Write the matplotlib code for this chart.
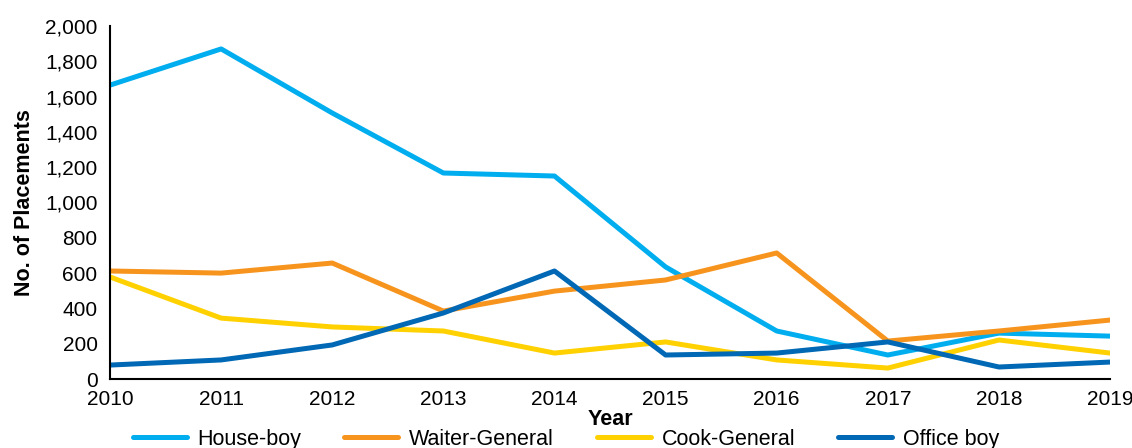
import numpy as np
import matplotlib.pyplot as plt
from matplotlib.ticker import FuncFormatter

plt.rcParams['font.family'] = ['Liberation Sans', 'DejaVu Sans']

years = [2010, 2011, 2012, 2013, 2014, 2015, 2016, 2017, 2018, 2019]
house_boy = [1665, 1870, 1507, 1167, 1150, 635, 272, 136, 260, 243]
waiter_general = [612, 600, 657, 385, 498, 561, 714, 215, 272, 334]
cook_general = [578, 345, 295, 272, 147, 210, 108, 62, 221, 147]
office_boy = [79, 108, 193, 374, 612, 136, 147, 210, 68, 96]

series = [
    ("House-boy", house_boy, "#00AEEF"),
    ("Waiter-General", waiter_general, "#F7941D"),
    ("Cook-General", cook_general, "#FFD100"),
    ("Office boy", office_boy, "#0068B4"),
]

fig = plt.figure(figsize=(11.32, 4.48), dpi=100)
ax = fig.add_axes([0.0972, 0.154, 0.8834, 0.788])

for name, vals, col in series:
    ax.plot(years, vals, color=col, lw=3.6, label=name, solid_capstyle='round')

ax.set_xlim(2010, 2019)
ax.set_ylim(0, 2000)
ax.set_xticks(years)
ax.set_yticks(np.arange(0, 2001, 200))
ax.yaxis.set_major_formatter(FuncFormatter(lambda v, p: f"{int(v):,}"))
ax.tick_params(length=0, labelsize=15)
ax.tick_params(axis='x', pad=8)
ax.tick_params(axis='y', pad=9)

for s in ['top', 'right']:
    ax.spines[s].set_visible(False)
for s in ['left', 'bottom']:
    ax.spines[s].set_linewidth(1.5)

ax.set_xlabel("Year", fontsize=15.5, fontweight='bold', labelpad=0)
ax.set_ylabel("No. of Placements", fontsize=15.5, fontweight='bold', labelpad=7)

fig.legend(*ax.get_legend_handles_labels(), loc='center', bbox_to_anchor=(0.5, 0.02),
           ncol=4, frameon=False, fontsize=15.5, handlelength=2.5,
           columnspacing=2.0, handletextpad=0.5, borderpad=0)

fig.savefig("out.png", dpi=100)
